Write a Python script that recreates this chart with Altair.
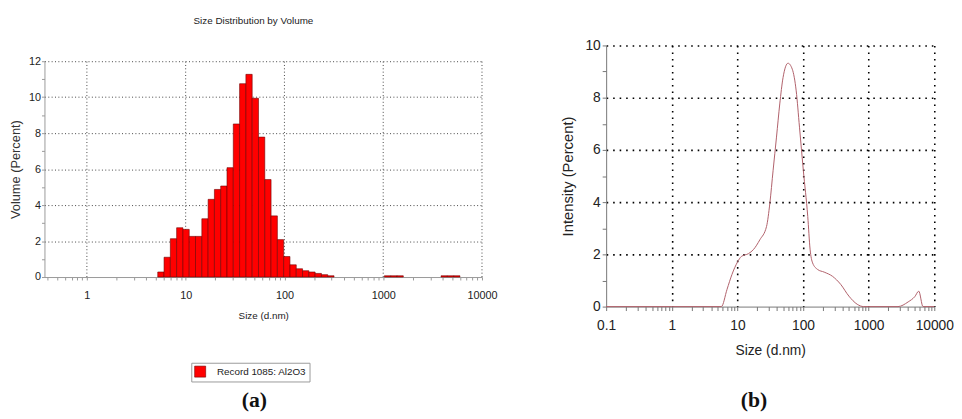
import altair as alt
import numpy as np
import pandas as pd

# ---------------- data ----------------
# Panel (a): size distribution by volume (Malvern size classes, d.nm)
vol_sizes = [5.615, 6.503, 7.531, 8.721, 10.10, 11.70, 13.54, 15.69, 18.17, 21.04,
             24.36, 28.21, 32.67, 37.84, 43.82, 50.75, 58.77, 68.06, 78.82, 91.28,
             105.7, 122.4, 141.8, 164.2, 190.1, 220.2, 255.0, 295.3,
             1106, 1281, 1484, 4145, 4801, 5560]
vol_values = [0.28, 1.10, 2.13, 2.74, 2.65, 2.26, 2.26, 3.24, 4.32, 4.87,
              5.06, 6.08, 8.51, 10.75, 11.27, 9.94, 7.78, 5.42, 3.40, 2.08,
              1.14, 0.68, 0.46, 0.35, 0.28, 0.20, 0.13, 0.07,
              0.07, 0.07, 0.07, 0.07, 0.07, 0.07]
legend_label = "Record 1085: Al2O3"

# Panel (b): size distribution by intensity
int_sizes = [0.1, 1, 5.7, 6.95, 8.26, 10, 11.5, 14.8, 17.5, 22, 27.8, 31.2, 35, 39.4,
             44.2, 49.6, 59, 68.6, 78.7, 88.3, 101, 118, 128, 140, 167, 210, 281, 375,
             500, 668, 840, 2800, 4000, 5045, 5800, 6730, 10000]
int_values = [0, 0, 0, 0.66, 1.23, 1.70, 1.92, 2.03, 2.18, 2.56, 3.07, 3.95, 5.22, 6.49,
              7.76, 8.77, 9.32, 9.09, 8.26, 6.87, 5.22, 3.45, 2.20, 1.67, 1.42, 1.32, 1.16, 0.85,
              0.40, 0.09, 0, 0, 0.18, 0.38, 0.59, 0, 0]

a_title = "Size Distribution by Volume"
a_ytitle = "Volume (Percent)"
b_ytitle = "Intensity (Percent)"
x_title = "Size (d.nm)"
a_majors = [1, 10, 100, 1000, 10000]
b_majors = [0.1, 1, 10, 100, 1000, 10000]
a_ymax = 12

# ---------------- helpers ----------------
def log_ticks(lo_dec, hi_dec):
    vals = []
    for d in range(lo_dec, hi_dec):
        for m in range(1, 10):
            vals.append(round(m * 10 ** d, 6))
    vals.append(10 ** hi_dec)
    return vals

FONT = "Liberation Sans"
SERIF = "Liberation Serif"

# 70 Malvern size classes spanning 0.4 - 10000 nm
ratio = 10 ** (np.log10(25000) / 69)
vol_df = pd.DataFrame({"size": vol_sizes, "vol": vol_values})
vol_df["lo"] = vol_df["size"] / np.sqrt(ratio)
vol_df["hi"] = vol_df["size"] * np.sqrt(ratio)
vol_df["rec"] = legend_label

grid_a = pd.DataFrame({"lo": a_majors, "vol": [0] * len(a_majors), "top": [a_ymax] * len(a_majors)})

int_df = pd.DataFrame({"size": int_sizes, "intensity": int_values})

# layout: panel (a) plot starts TOP_A px below the shared top of both panels
A_H = 219
TOP_A = 16

# ---------------- panel (a) ----------------
a_xticks = [v for v in log_ticks(-1, 4) if v >= 0.4]
a_xaxis = alt.Axis(
    values=a_xticks,
    labelExpr=f"indexof({a_majors}, datum.value) >= 0 ? format(datum.value, '~g') : ''",
    grid=False,
    domainColor="#999", tickColor="#999", tickSize=3,
    labelFont=FONT, labelFontSize=11, labelColor="#222", labelPadding=10, labelFlush=False,
    titleFont=FONT, titleFontSize=10, titleFontWeight="normal", titleColor="#222", titlePadding=10,
)
a_yaxis = alt.Axis(
    values=list(range(0, 13)),
    labelExpr="datum.value % 2 == 0 ? datum.label : ''",
    gridOpacity={"condition": {"test": "datum.value % 2 == 0 && datum.value > 0", "value": 1}, "value": 0},
    grid=True, gridColor="#444", gridDash=[1, 2.4], gridWidth=1,
    domainColor="#999", tickColor="#999", tickSize=3,
    labelFont=FONT, labelFontSize=11, labelColor="#222", labelPadding=1,
    titleFont=FONT, titleFontSize=13, titleFontWeight="normal", titleColor="#333", titlePadding=6,
)
xa_scale = alt.Scale(type="log", domain=[0.372, 10000], nice=False)
ya_scale = alt.Scale(domain=[0, a_ymax], nice=False, range=[A_H + TOP_A, TOP_A])

vgrid_a = alt.Chart(grid_a).mark_rule(color="#444", strokeDash=[1, 2.4], strokeWidth=1).encode(
    x=alt.X("lo:Q", scale=xa_scale, axis=a_xaxis, title=x_title),
    y=alt.Y("vol:Q", scale=ya_scale, axis=a_yaxis, title=a_ytitle),
    y2="top:Q",
)

bars = alt.Chart(vol_df).mark_bar(stroke="#700000", strokeWidth=0.6).encode(
    x=alt.X("lo:Q", scale=xa_scale, axis=a_xaxis, title=x_title),
    x2="hi:Q",
    y=alt.Y("vol:Q", scale=ya_scale, axis=a_yaxis, title=a_ytitle),
    y2=alt.datum(0),
    color=alt.Color("rec:N", scale=alt.Scale(domain=[legend_label], range=["#ff0000"]),
                    legend=alt.Legend(orient="none", legendX=149, legendY=322, title=None,
                                      symbolType="square", symbolSize=125, symbolStrokeColor="#700000",
                                      symbolStrokeWidth=0.6, labelFont=FONT, labelFontSize=10,
                                      labelColor="#222", labelOffset=11, padding=3,
                                      strokeColor="#999", fillColor="white")),
)

cap_a = alt.Chart(pd.DataFrame({"t": ["(a)"]})).mark_text(
    font=SERIF, fontSize=22, fontWeight="bold", baseline="alphabetic", color="#111"
).encode(text="t:N", x=alt.value(213), y=alt.value(367))

panel_a = alt.layer(vgrid_a, bars, cap_a).properties(
    width=444, height=A_H + TOP_A,
    title=alt.TitleParams(a_title, font=FONT, fontSize=10, fontWeight="normal", color="#222",
                          anchor="middle", frame="bounds", offset=20),
)

# ---------------- panel (b) ----------------
b_xaxis = alt.Axis(
    values=log_ticks(-1, 4),
    labelExpr=f"indexof({b_majors}, datum.value) >= 0 ? format(datum.value, '~g') : ''",
    gridOpacity={"condition": {"test": f"indexof({b_majors}, datum.value) >= 0 && datum.value > 0.1", "value": 1}, "value": 0},
    grid=True, gridColor="#000", gridDash=[1.6, 5], gridWidth=1.6,
    domainColor="#777", tickColor="#777", tickSize=4,
    labelFont=FONT, labelFontSize=14, labelColor="#222", labelPadding=8.5, labelFlush=False,
    titleFont=FONT, titleFontSize=14, titleFontWeight="normal", titleColor="#222", titlePadding=11.5,
)
b_yaxis = alt.Axis(
    values=list(range(0, 11)),
    labelExpr="datum.value % 2 == 0 ? datum.label : ''",
    gridOpacity={"condition": {"test": "datum.value % 2 == 0 && datum.value > 0", "value": 1}, "value": 0},
    grid=True, gridColor="#000", gridDash=[1.6, 5], gridWidth=1.6,
    domainColor="#777", tickColor="#777", tickSize=4,
    labelFont=FONT, labelFontSize=14, labelColor="#222", labelPadding=2,
    titleFont=FONT, titleFontSize=15, titleFontWeight="normal", titleColor="#222", titlePadding=10,
)

line = alt.Chart(int_df).mark_line(color="#b0606a", strokeWidth=1, interpolate="monotone").encode(
    x=alt.X("size:Q", scale=alt.Scale(type="log", domain=[0.1, 10000], nice=False),
            axis=b_xaxis, title=x_title),
    y=alt.Y("intensity:Q", scale=alt.Scale(domain=[0, 10], nice=False), axis=b_yaxis, title=b_ytitle),
)

cap_b = alt.Chart(pd.DataFrame({"t": ["(b)"]})).mark_text(
    font=SERIF, fontSize=22, fontWeight="bold", baseline="alphabetic", color="#111"
).encode(text="t:N", x=alt.value(150), y=alt.value(367))

panel_b = alt.layer(line, cap_b).properties(width=333, height=265)

chart = alt.hconcat(panel_a, panel_b, spacing=63).properties(
    padding={"left": 1, "top": 5, "right": 0, "bottom": 0}
).configure_view(stroke=None)

chart.save("out.html", embed_options={"renderer": "svg", "actions": False})
